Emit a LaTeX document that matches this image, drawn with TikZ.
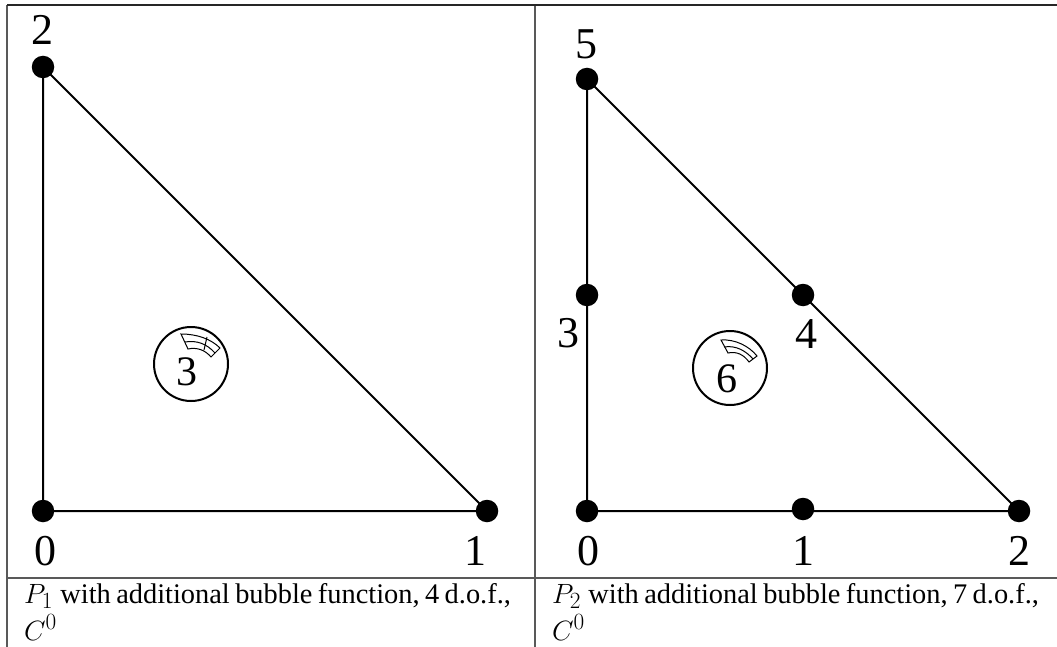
\documentclass[tikz,border=0pt]{standalone}
\usepackage{fontspec}
\setmainfont{Liberation Serif}
\newcommand{\capmath}[1]{\scalebox{1.12}{#1}}
\newcommand{\capfont}{\fontsize{28.4}{28.4}\selectfont\setlength{\spaceskip}{0.19em plus 0.05em minus 0.05em}}
\tikzset{
  rulel/.style={draw=black!65,line width=1.1pt},
  edgel/.style={draw=black,line width=2pt},
  dotn/.style={circle,fill=black,minimum size=22.5pt,inner sep=0pt},
  num/.style={font=\fontsize{44}{44}\selectfont,inner sep=0pt},
  captxt/.style={font=\capfont,inner sep=0pt,anchor=base west},
  bubble/.style={circle,draw=black,line width=2pt,fill=white,minimum size=74pt,inner sep=0pt},
  glyph/.style={draw=black,line width=1pt}
}
\begin{document}
\begin{tikzpicture}[x=1pt,y=-1pt]
\useasboundingbox (0,0) rectangle (1057,647);
\coordinate (ftl) at (0,5); \coordinate (ftr) at (1057,5);
\coordinate (fbl) at (7,647);
\coordinate (mt) at (535,5); \coordinate (mb) at (535,647);
\coordinate (hl) at (7,578); \coordinate (hr) at (1057,578);
\coordinate (tl) at (7,5);
\draw[rulel] (tl) -- (fbl);
\draw[rulel] (mt) -- (mb);
\draw[rulel,draw=black!85] (tl) -- (ftr);
\draw[rulel] (hl) -- (hr);
% left triangle
\node[dotn] (a0) at (43,511) {};
\node[dotn] (a1) at (487,511) {};
\node[dotn] (a2) at (43,67) {};
\draw[edgel] (a0.center) -- (a1.center) -- (a2.center) -- cycle;
\node[num] (la2) at (42,30) {2};
\node[num] (la0) at (45,551) {0};
\node[num] (la1) at (475,551) {1};
\node[bubble] (ba) at (191,364) {};
\node[num,font=\fontsize{42}{42}\selectfont] (ba3) at (187,372) {3};
\draw[glyph] (181,334) .. controls (197,334) and (211,339) .. (220,348) -- (211,357)
  .. controls (205,350) and (197,347) .. (188,349) -- cycle;
\draw[glyph] (185,342) .. controls (197,340) and (207,344) .. (215,353);
\draw[glyph] (207,337) -- (204,350);
% right triangle
\node[dotn] (b0) at (587,511) {};
\node[dotn] (b1) at (803,509) {};
\node[dotn] (b2) at (1019,511) {};
\node[dotn] (b3) at (587,295) {};
\node[dotn] (b4) at (803,295) {};
\node[dotn] (b5) at (587,79) {};
\draw[edgel] (b0.center) -- (b2.center) -- (b5.center) -- cycle;
\node[num] (lb5) at (586,44) {5};
\node[num] (lb3) at (568,333) {3};
\node[num] (lb4) at (806,334) {4};
\node[num] (lb0) at (588,551) {0};
\node[num] (lb1) at (803,551) {1};
\node[num] (lb2) at (1019,551) {2};
\node[bubble] (bb) at (730,368) {};
\node[num,font=\fontsize{42}{42}\selectfont] (bb6) at (727,379) {6};
\draw[glyph] (721,340) .. controls (735,339) and (749,346) .. (757,356) -- (749,362)
  .. controls (744,355) and (737,351) .. (728,353) -- cycle;
\draw[glyph] (724,347) .. controls (736,345) and (746,351) .. (753,359);
% captions
\node[captxt] (ca1) at (24,603) {\capmath{$P_1$}\hspace{2pt} with additional bubble function, 4 d.o.f.,};
\node[captxt] (ca2) at (24,640) {\capmath{$C^0$}};
\node[captxt] (cb1) at (552,603) {\capmath{$P_2$}\hspace{2pt} with additional bubble function, 7 d.o.f.,};
\node[captxt] (cb2) at (552,640) {\capmath{$C^0$}};
\end{tikzpicture}
\end{document}
